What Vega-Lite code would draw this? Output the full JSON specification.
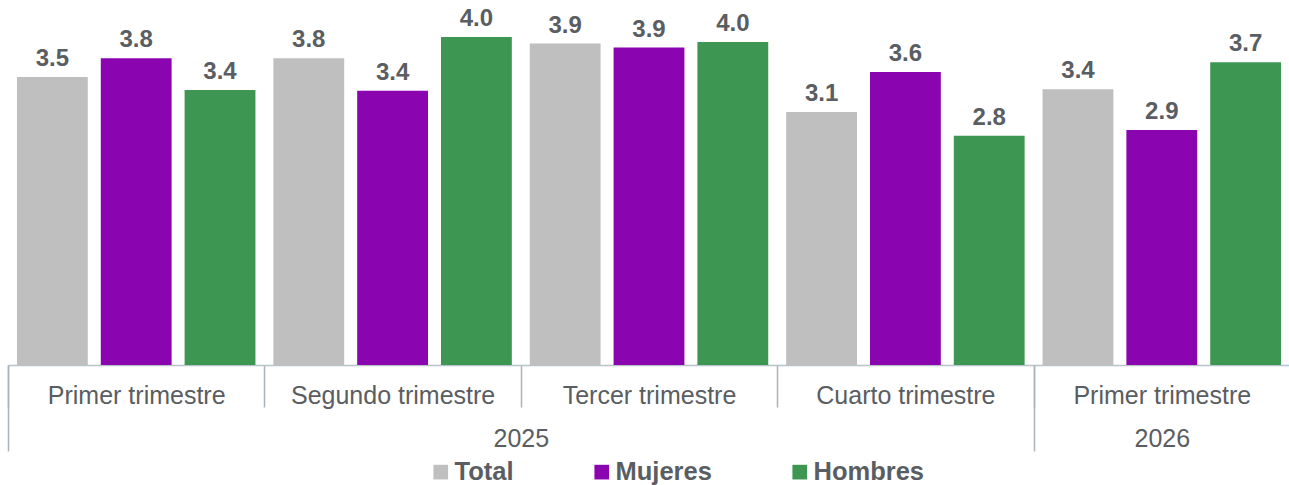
{
  "$schema": "https://vega.github.io/schema/vega-lite/v6.json",
  "autosize": "none",
  "padding": {"left": 8, "top": 6, "right": 0, "bottom": 120},
  "width": 1282,
  "height": 359,
  "config": {"view": {"stroke": null}, "font": "Liberation Sans"},
  "layer": [
    {
      "data": {"name": "barras", "values": [
        {"periodo": "Primer trimestre|2025", "serie": "Total", "valor": 3.53},
        {"periodo": "Primer trimestre|2025", "serie": "Mujeres", "valor": 3.76},
        {"periodo": "Primer trimestre|2025", "serie": "Hombres", "valor": 3.37},
        {"periodo": "Segundo trimestre|2025", "serie": "Total", "valor": 3.76},
        {"periodo": "Segundo trimestre|2025", "serie": "Mujeres", "valor": 3.36},
        {"periodo": "Segundo trimestre|2025", "serie": "Hombres", "valor": 4.02},
        {"periodo": "Tercer trimestre|2025", "serie": "Total", "valor": 3.94},
        {"periodo": "Tercer trimestre|2025", "serie": "Mujeres", "valor": 3.89},
        {"periodo": "Tercer trimestre|2025", "serie": "Hombres", "valor": 3.96},
        {"periodo": "Cuarto trimestre|2025", "serie": "Total", "valor": 3.10},
        {"periodo": "Cuarto trimestre|2025", "serie": "Mujeres", "valor": 3.59},
        {"periodo": "Cuarto trimestre|2025", "serie": "Hombres", "valor": 2.81},
        {"periodo": "Primer trimestre|2026", "serie": "Total", "valor": 3.38},
        {"periodo": "Primer trimestre|2026", "serie": "Mujeres", "valor": 2.88},
        {"periodo": "Primer trimestre|2026", "serie": "Hombres", "valor": 3.71}
      ]},
      "layer": [
        {
          "mark": {"type": "bar"},
          "encoding": {
            "x": {"field": "periodo", "type": "nominal", "sort": null,
              "scale": {"paddingInner": 0, "paddingOuter": 0},
              "axis": {"title": null, "labelAngle": 0, "labelExpr": "isString(datum.value) ? split(datum.value, '|')[0] : ''",
                "tickBand": "extent", "tickSize": 42, "tickColor": "#a9b3ba", "tickWidth": 1.5,
                "domainColor": "#b8c2c9", "domainWidth": 1.5, "labelLimit": 400,
                "labelFont": "Liberation Sans", "labelFontSize": 25, "labelColor": "#5a5d61",
                "labelPadding": -24, "labelBaseline": "top"}},
            "xOffset": {"field": "serie", "type": "nominal", "sort": ["Total", "Mujeres", "Hombres"],
              "scale": {"paddingInner": 0.155, "paddingOuter": 0.107}},
            "y": {"field": "valor", "type": "quantitative", "scale": {"domain": [0, 4.4], "nice": false}, "axis": null},
            "color": {"field": "serie", "type": "nominal", "sort": ["Total", "Mujeres", "Hombres"],
              "scale": {"domain": ["Total", "Mujeres", "Hombres"], "range": ["#BFBFBF", "#8A05B0", "#3D9651"]},
              "legend": {"title": null, "orient": "none", "legendX": 420, "legendY": 453, "direction": "horizontal",
                "columnPadding": 75, "labelOffset": 1, "symbolType": "square", "symbolSize": 215,
                "symbolStrokeWidth": 0, "padding": 0,
                "labelFont": "Liberation Sans", "labelFontSize": 25.5, "labelFontWeight": "bold", "labelColor": "#5a5d61"}}
          }
        },
        {
          "mark": {"type": "text", "baseline": "alphabetic", "dy": -11, "font": "Liberation Sans", "fontSize": 24, "fontWeight": "bold", "color": "#5a5d61"},
          "encoding": {
            "x": {"field": "periodo", "type": "nominal", "sort": null},
            "xOffset": {"field": "serie", "type": "nominal", "sort": ["Total", "Mujeres", "Hombres"]},
            "y": {"field": "valor", "type": "quantitative"},
            "text": {"field": "valor", "type": "quantitative", "format": ".1f"}
          }
        }
      ]
    },
    {
      "data": {"values": [{"pos": 0}, {"pos": 5}]},
      "mark": {"type": "point", "opacity": 0},
      "encoding": {
        "x": {"field": "pos", "type": "quantitative",
          "scale": {"domain": [0, 5], "nice": false, "zero": false},
          "axis": {"orient": "bottom", "title": null, "values": [0, 2, 4, 4.5, 5], "grid": false, "domain": false,
            "tickSize": 86, "tickColor": "#a9b3ba", "tickWidth": 1.5,
            "tickOpacity": {"condition": {"test": "datum.value == 2 || datum.value == 4.5", "value": 0}, "value": 1},
            "labelExpr": "datum.value == 2 ? '2025' : (datum.value == 4.5 ? '2026' : '')",
            "labelFont": "Liberation Sans", "labelFontSize": 25, "labelColor": "#5a5d61",
            "labelPadding": -25, "labelBaseline": "top", "labelFlush": false, "labelOverlap": false}}
      }
    }
  ],
  "resolve": {"scale": {"x": "independent"}}
}
